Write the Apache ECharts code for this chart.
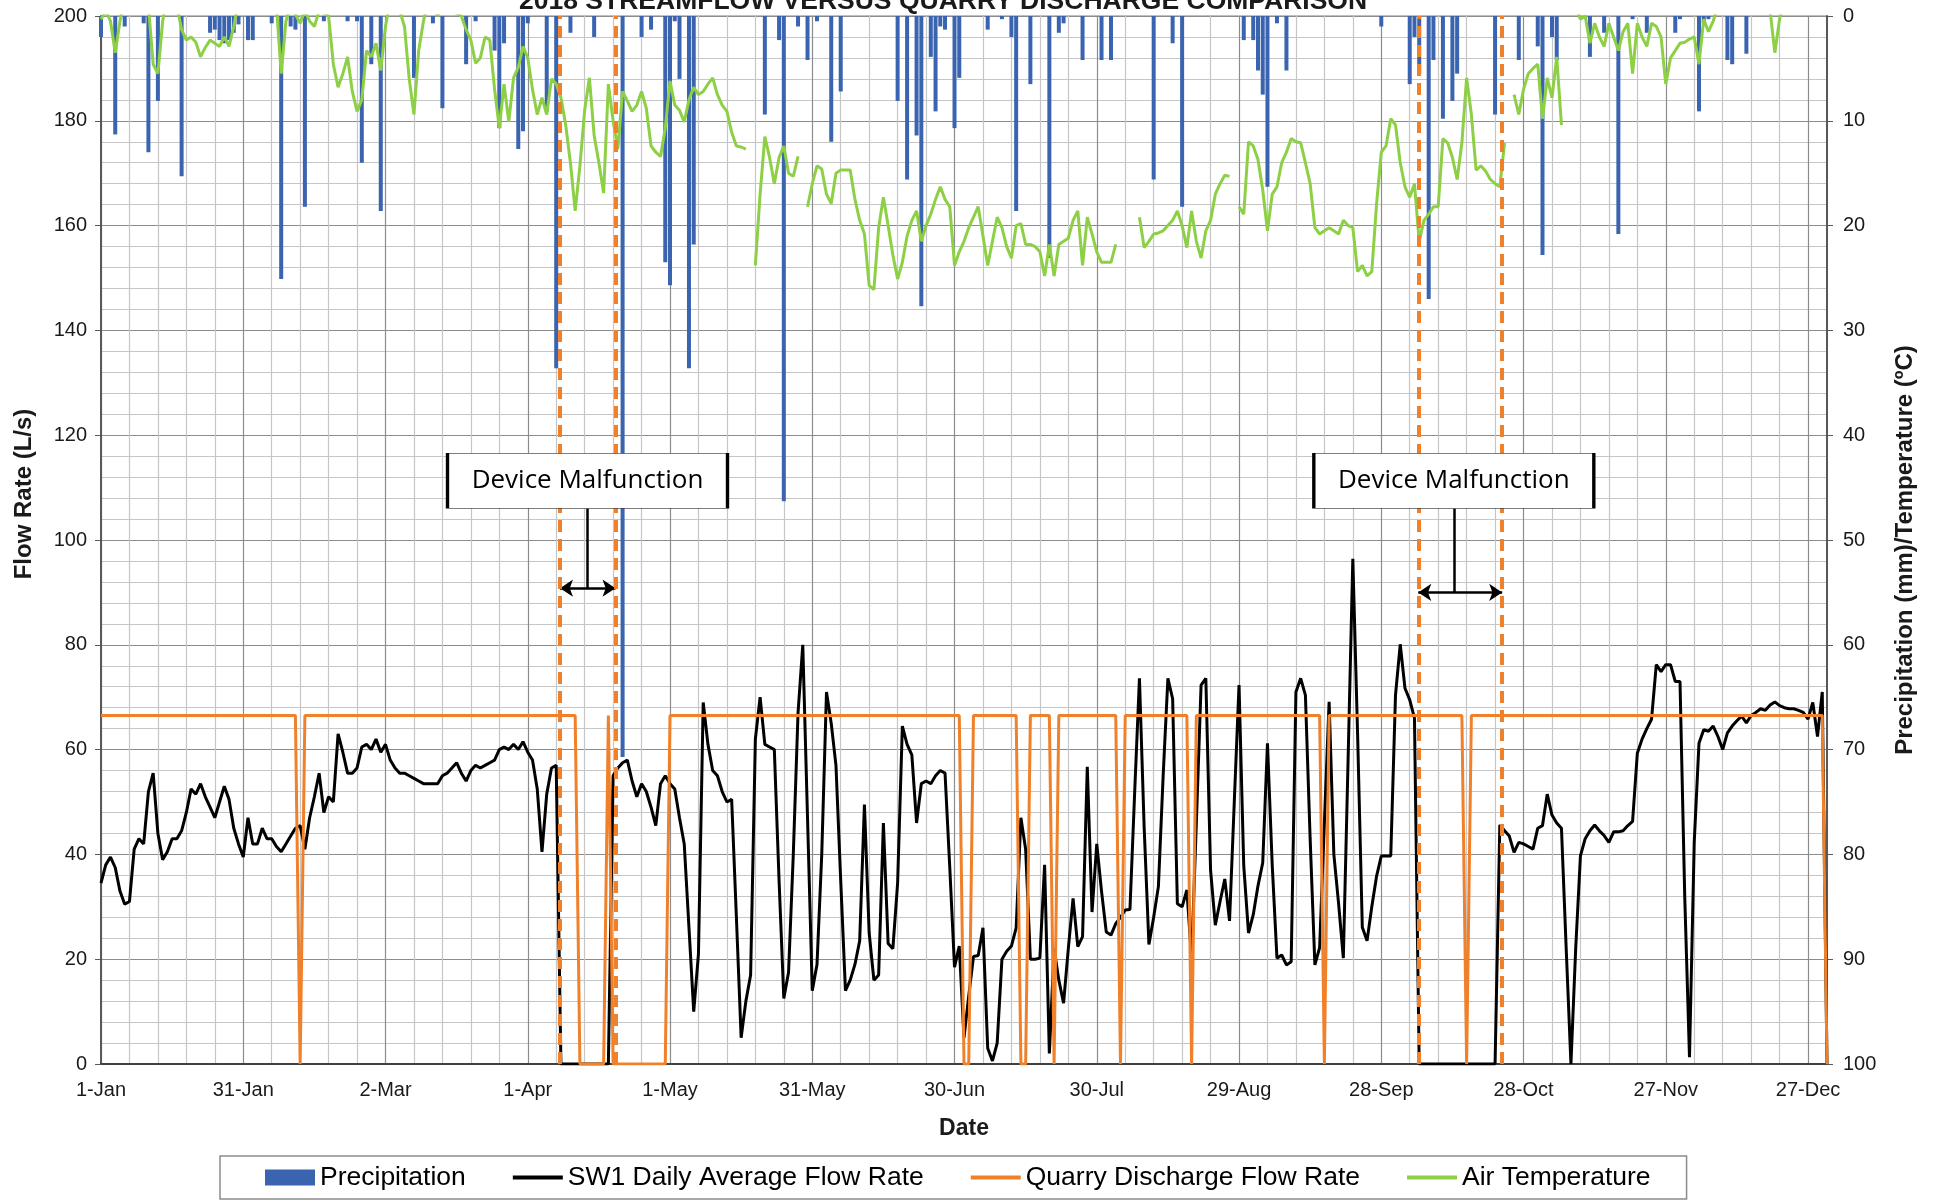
<!DOCTYPE html>
<html><head><meta charset="utf-8">
<script src="https://cdn.jsdelivr.net/npm/echarts/dist/echarts.min.js"></script>
<style>html,body{margin:0;padding:0;background:#fff}#c{width:1938px;height:1201px}</style>
</head><body><div id="c"></div>
<script>
// ---------------- data ----------------
const chartTitle = '2018 STREAMFLOW VERSUS QUARRY DISCHARGE COMPARISON';
const tickLabels = ['1-Jan','31-Jan','2-Mar','1-Apr','1-May','31-May','30-Jun','30-Jul','29-Aug','28-Sep','28-Oct','27-Nov','27-Dec'];
const seriesNames = ['Precipitation','SW1 Daily Average Flow Rate','Quarry Discharge Flow Rate','Air Temperature'];

// [day of year (0 = 1-Jan), mm]
const precipitation = [[0,2],[3,11.3],[5,1],[9,0.7],[10,13],[12,8.1],[17,15.3],[23,1.6],[24,1.3],[25,2.3],[26,2.6],[27,2.3],[28,1.6],[29,0.8],[31,2.3],[32,2.3],[36,0.7],[38,25.1],[40,1],[41,1.3],[43,18.2],[47,0.5],[52,0.5],[54,0.5],[55,14],[57,4.6],[59,18.6],[66,5.9],[70,0.7],[72,8.8],[77,4.6],[79,0.5],[83,3.3],[84,10.7],[85,2.6],[88,12.7],[89,11],[90,0.7],[94,9.1],[96,33.6],[99,1.6],[104,2],[110,70.7],[114,2],[116,1.3],[119,23.5],[120,25.7],[121,0.5],[122,6],[124,33.6],[125,21.8],[140,9.4],[143,2.3],[144,46.3],[147,1],[149,4.2],[151,0.5],[154,12],[156,7.2],[168,8.1],[170,15.6],[172,11.4],[173,27.7],[175,3.9],[176,9.1],[177,1],[178,1.3],[180,10.7],[181,5.9],[187,1.3],[190,0.3],[192,2],[193,18.6],[196,6.5],[200,23.1],[202,1.6],[203,0.7],[207,4.2],[211,4.2],[213,4.2],[222,15.6],[226,2.6],[228,18.2],[241,2.3],[243,2.3],[244,5.2],[245,7.5],[246,16.3],[248,0.7],[250,5.2],[270,1],[276,6.5],[277,2],[278,5.5],[280,27],[281,4.2],[283,9.8],[285,8.1],[286,5.5],[294,9.4],[299,4.2],[303,2.9],[304,22.8],[306,2],[307,4.2],[314,3.9],[317,1.6],[320,20.8],[323,0.3],[326,1.6],[332,1.6],[333,0.3],[337,9.1],[338,0.7],[339,0.3],[343,4.2],[344,4.6],[347,3.6]];

// [day, L/s]
const sw1Flow = [[0,34.5],[1,38],[2,39.5],[3,37.5],[4,33],[5,30.5],[6,31],[7,41],[8,43],[9,42],[10,52],[11,55.5],[12,44],[13,39],[14,40.5],[15,43],[16,43],[17,44.5],[18,48],[19,52.5],[20,51.5],[21,53.5],[22,51],[23,49],[24,47],[25,50],[26,53],[27,50.5],[28,45],[29,42],[30,39.5],[31,47],[32,42],[33,42],[34,45],[35,43],[36,43],[37,41.5],[38,40.5],[39,42],[40,43.5],[41,45],[42,45.5],[43,41],[44,47],[45,51],[46,55.5],[47,48],[48,51],[49,50],[50,63],[51,59.5],[52,55.5],[53,55.5],[54,56.5],[55,60.5],[56,61],[57,60],[58,62],[59,59.5],[60,61],[61,58],[62,56.5],[63,55.5],[64,55.5],[65,55],[66,54.5],[67,54],[68,53.5],[69,53.5],[70,53.5],[71,53.5],[72,55],[73,55.5],[74,56.5],[75,57.5],[76,55.5],[77,54],[78,56],[79,57],[80,56.5],[81,57],[82,57.5],[83,58],[84,60],[85,60.5],[86,60],[87,61],[88,60],[89,61.5],[90,59.5],[91,58],[92,52.5],[93,40.5],[94,51.5],[95,56.5],[96,57],[97,0],[107,0],[108,55],[109,56.5],[110,57.5],[111,58],[112,54],[113,51],[114,53.5],[115,52],[116,49],[117,45.5],[118,53.5],[119,55],[120,53.5],[121,52.5],[122,47],[123,42],[124,26],[125,10],[126,21],[127,69],[128,61],[129,56],[130,55],[131,52],[132,50],[133,50.5],[134,28],[135,5],[136,12],[137,17],[138,62],[139,70],[140,61],[141,60.5],[142,60],[143,35],[144,12.5],[145,17.5],[146,40],[147,67],[148,80],[149,47],[150,14],[151,19],[152,40],[153,71],[154,65],[155,57],[156,35],[157,14],[158,16],[159,19],[160,23.5],[161,49.5],[162,25],[163,16],[164,17],[165,46],[166,23],[167,22],[168,34.5],[169,64.5],[170,61],[171,59],[172,46],[173,53.5],[174,54],[175,53.5],[176,55],[177,56],[178,55.5],[179,37.5],[180,18.5],[181,22.5],[182,5],[183,13],[184,20.5],[185,20.7],[186,26],[187,3],[188,0.6],[189,4],[190,20],[191,21.5],[192,22.5],[193,26],[194,47],[195,41],[196,20],[197,20],[198,20.2],[199,38],[200,2],[201,22],[202,16],[203,11.6],[204,22],[205,31.6],[206,22.4],[207,24.3],[208,56.7],[209,29],[210,42],[211,33],[212,25.2],[213,24.6],[214,26.8],[215,28],[216,29.4],[217,29.5],[218,52],[219,73.6],[220,45],[221,22.8],[222,28],[223,33.9],[224,55],[225,73.6],[226,69.7],[227,30.6],[228,30],[229,33.2],[230,20.2],[231,46],[232,72.3],[233,73.6],[234,37],[235,26.5],[236,31],[237,35.3],[238,27.3],[239,50],[240,72.3],[241,37.8],[242,25],[243,28.5],[244,34],[245,38.4],[246,61.2],[247,38],[248,20.2],[249,20.8],[250,18.9],[251,19.5],[252,71],[253,73.6],[254,70.4],[255,43],[256,18.9],[257,22.2],[258,46],[259,69.1],[260,40],[261,30.6],[262,20.2],[263,58],[264,96.4],[265,63.2],[266,26.1],[267,23.5],[268,30],[269,35.8],[270,39.7],[271,39.7],[272,39.7],[273,70.4],[274,80.1],[275,71.7],[276,69.5],[277,66],[278,0],[294,0],[295,45.6],[296,44.5],[297,43.5],[298,40.4],[299,42.3],[300,42],[301,41.5],[302,41],[303,45],[304,45.5],[305,51.5],[306,47.5],[307,46],[308,45],[309,22],[310,0],[311,22],[312,39.7],[313,43],[314,44.5],[315,45.6],[316,44.5],[317,43.6],[318,42.3],[319,44.3],[320,44.3],[321,44.5],[322,45.5],[323,46.3],[324,59.3],[325,62],[326,64],[327,65.8],[328,76.2],[329,74.9],[330,76.2],[331,76.2],[332,73],[333,73],[334,31.9],[335,1.3],[336,42.3],[337,61.2],[338,63.8],[339,63.5],[340,64.5],[341,62.5],[342,60],[343,63.2],[344,64.5],[345,65.5],[346,66.4],[347,65.1],[348,66.5],[349,67.1],[350,67.8],[351,67.5],[352,68.5],[353,69.1],[354,68.4],[355,68],[356,67.8],[357,67.8],[358,67.5],[359,67.1],[360,65.8],[361,69],[362,62.5],[363,71],[364,0]];

// [day, L/s]
const quarryDischarge = [[0,66.5],[41,66.5],[42,0],[43,66.5],[100,66.5],[101,0],[106,0],[107,66.5],[108,0],[119,0],[120,66.5],[181,66.5],[182,0],[183,0],[184,66.5],[193,66.5],[194,0],[195,0],[196,66.5],[200,66.5],[201,0],[202,66.5],[214,66.5],[215,0],[216,66.5],[229,66.5],[230,0],[231,66.5],[257,66.5],[258,0],[259,66.5],[287,66.5],[288,0],[289,66.5],[363,66.5],[364,0]];

// [day, degC]  (null = no record; below-zero values fall outside the axis)
const airTemperature = [[0,0.3],[1,-0.5],[2,0.5],[3,3.5],[4,0.5],[5,-2],[10,-1],[11,4.6],[12,5.5],[13,0.5],[14,-2],[16,-1],[17,1.3],[18,2.3],[19,2],[20,2.5],[21,3.9],[22,3],[23,2.3],[24,2.6],[25,2.9],[26,2],[27,2.9],[28,1],[29,-1.5],[37,-1],[38,5.5],[39,0.5],[40,-1],[42,0.7],[43,-0.5],[44,0.5],[45,1],[46,-0.5],[48,0],[49,4.6],[50,6.8],[51,5.5],[52,3.9],[53,7.2],[54,9.1],[55,8],[56,3.3],[57,3.9],[58,2.6],[59,5.2],[60,1],[61,-1.5],[63,-0.5],[64,1],[65,6],[66,9.4],[67,3.3],[68,0.5],[69,-1.5],[71,0],[72,-1],[76,0],[77,1.3],[78,2.3],[79,4.5],[80,4],[81,2],[82,2.3],[83,7],[84,10.7],[85,6.5],[86,10.1],[87,5.9],[88,4.9],[89,2.9],[90,4],[91,7],[92,9.4],[93,7.8],[94,9.4],[95,6],[96,6.5],[97,7.8],[98,10.4],[99,14],[100,18.6],[101,14.3],[102,9],[103,5.9],[104,11.4],[105,14],[106,16.9],[107,6.5],[108,10],[109,12.7],[110,7.2],[111,8.1],[112,9.1],[113,8.5],[114,7.2],[115,8.8],[116,12.4],[117,13],[118,13.4],[119,10.7],[120,6.2],[121,8.5],[122,9],[123,10.1],[124,8],[125,6.8],[126,7.5],[127,7.2],[128,6.5],[129,5.9],[130,7.5],[131,8.5],[132,9.1],[133,11.1],[134,12.4],[135,12.5],[136,12.7],[137,null],[138,23.8],[139,17],[140,11.5],[141,13.5],[142,16],[143,13.5],[144,12.4],[145,15],[146,15.3],[147,13.4],[148,null],[149,18.2],[150,16],[151,14.3],[152,14.6],[153,17],[154,17.9],[155,15],[156,14.7],[157,14.7],[158,14.7],[159,17.5],[160,19.5],[161,20.8],[162,25.7],[163,26.1],[164,20.2],[165,17.3],[166,20],[167,22.8],[168,25.1],[169,23.5],[170,21],[171,19.5],[172,18.6],[173,21.5],[174,20],[175,18.9],[176,17.5],[177,16.3],[178,17.5],[179,18.2],[180,23.8],[181,22.5],[182,21.5],[183,20.2],[184,19.2],[185,18.2],[186,21],[187,23.8],[188,21.5],[189,19.2],[190,20.2],[191,22],[192,23.1],[193,20],[194,19.8],[195,21.8],[196,21.8],[197,22],[198,22.5],[199,24.8],[200,21.8],[201,24.8],[202,21.8],[203,21.5],[204,21.2],[205,19.5],[206,18.6],[207,23.8],[208,19.2],[209,20.8],[210,22.5],[211,23.5],[212,23.5],[213,23.5],[214,21.8],[215,null],[219,19.2],[220,22.1],[221,21.5],[222,20.8],[223,20.7],[224,20.5],[225,20],[226,19.5],[227,18.6],[228,20],[229,22.1],[230,18.6],[231,21.5],[232,23.1],[233,20.5],[234,19.5],[235,17],[236,16],[237,15.2],[238,15.3],[239,null],[240,18.2],[241,18.9],[242,12],[243,12.4],[244,13.7],[245,16.6],[246,20.5],[247,17],[248,16.3],[249,14],[250,13],[251,11.7],[252,12],[253,12.1],[254,14],[255,16],[256,20.2],[257,20.8],[258,20.5],[259,20.2],[260,20.5],[261,20.8],[262,19.5],[263,20],[264,20.2],[265,24.4],[266,23.8],[267,24.8],[268,24.4],[269,18],[270,13],[271,12.4],[272,9.8],[273,10.4],[274,14],[275,16.3],[276,17.3],[277,16],[278,21.5],[279,19.5],[280,18.9],[281,18.2],[282,18.2],[283,11.7],[284,12.1],[285,13.5],[286,15.6],[287,12.1],[288,5.9],[289,9.4],[290,14.7],[291,14.3],[292,14.8],[293,15.6],[294,16],[295,16.3],[296,12.1],[297,null],[298,7.5],[299,9.4],[300,7],[301,5.5],[302,5],[303,4.6],[304,9.8],[305,5.9],[306,7.8],[307,3.9],[308,10.4],[309,null],[311,-1],[312,0.3],[313,0],[314,2.6],[315,0.7],[316,2],[317,2.9],[318,0.7],[319,2],[320,3.3],[321,1.5],[322,0.7],[323,5.5],[324,0.7],[325,2],[326,2.9],[327,0.7],[328,1],[329,2],[330,6.5],[331,4],[332,3.3],[333,2.6],[334,2.5],[335,2.2],[336,2],[337,4.6],[338,0.3],[339,1.5],[340,0.5],[341,-1],[352,-0.5],[353,3.5],[354,0.3],[355,-1.5],[364,-1]];

// device malfunction windows [start day, end day] and the day each call-out box is centred on
const malfunctionWindows = [[96.8, 108.5], [277.8, 295.5]];
const calloutDays = [102.6, 285.3];
const annotationText = 'Device Malfunction';

// ---------------- layout / style ----------------
const BOX_LEVEL = 111.3, BOX_BOTTOM = 106, ARROW_LEVELS = [90.8, 90.0];
const FONT = '"Liberation Sans", Arial, sans-serif';
const C_BLUE = '#3a63b0', C_ORANGE = '#f0802a', C_GREEN = '#8dcf45';
const LINE_ICON = 'path://M0,0L0.01,0Z M0,6L50,6L50,10L0,10Z M0,16L0.01,16Z';

const markBoxes = calloutDays.map(d => ({coord: [d, BOX_LEVEL], value: annotationText}));
const blackMarks = [];
malfunctionWindows.forEach((w, i) => {
  const mid = calloutDays[i], lv = ARROW_LEVELS[i];
  blackMarks.push([{coord: [mid, BOX_BOTTOM], symbol: 'none'}, {coord: [mid, lv], symbol: 'none'}]);
  blackMarks.push([{coord: [w[0], lv], symbol: 'arrow'}, {coord: [w[1], lv], symbol: 'arrow'}]);
});
const dashedMarks = [];
malfunctionWindows.forEach(w => { dashedMarks.push({xAxis: w[0]}); dashedMarks.push({xAxis: w[1]}); });

const chart = echarts.init(document.getElementById('c'), null, {renderer: 'canvas'});
const MAJOR = '#8c8c8c', MINOR = '#c6c6c6';

chart.setOption({
  animation: false,
  backgroundColor: '#fff',
  title: {
    text: chartTitle, left: 519, top: -12, padding: 0,
    textStyle: {fontFamily: FONT, fontSize: 26.5, fontWeight: 'bold', color: '#1a1a1a'}
  },
  legend: {
    left: 220, top: 1156, padding: [8, 36, 8, 45], itemGap: 47,
    itemWidth: 50, itemHeight: 16,
    borderColor: '#8c8c8c', borderWidth: 1.5,
    textStyle: {fontFamily: FONT, fontSize: 26.5, color: '#000'},
    data: [
      {name: seriesNames[0], icon: 'rect'},
      {name: seriesNames[1], icon: LINE_ICON},
      {name: seriesNames[2], icon: LINE_ICON},
      {name: seriesNames[3], icon: LINE_ICON}
    ]
  },
  grid: {left: 101, right: 111, top: 16, bottom: 137, show: true, borderColor: '#808080', borderWidth: 1,
         containLabel: false, outerBoundsMode: 'none'},
  xAxis: {
    type: 'value', min: 0, max: 364, interval: 6,
    name: 'Date', nameLocation: 'middle', nameGap: 53,
    nameTextStyle: {fontFamily: FONT, fontSize: 23, fontWeight: 'bold', color: '#1a1a1a'},
    axisLine: {show: true, onZero: false, lineStyle: {color: '#404040', width: 2}},
    axisTick: {show: false},
    axisLabel: {
      fontFamily: FONT, fontSize: 20, color: '#1a1a1a', margin: 16,
      showMinLabel: true, showMaxLabel: true,
      formatter: v => (Math.abs(v % 30) < 1e-6 ? tickLabels[Math.round(v / 30)] : '')
    },
    splitLine: {show: true, lineStyle: {color: [MAJOR, MINOR, MINOR, MINOR, MINOR], width: 1.2}}
  },
  yAxis: [
    {
      type: 'value', min: 0, max: 200, interval: 20, position: 'left',
      name: 'Flow Rate (L/s)', nameLocation: 'middle', nameGap: 65, nameRotate: 90,
      nameTextStyle: {fontFamily: FONT, fontSize: 24, fontWeight: 'bold', color: '#1a1a1a', padding: [0, 0, 0, 92]},
      axisLine: {show: true, lineStyle: {color: '#595959', width: 2}},
      axisTick: {show: true, length: 6, lineStyle: {color: '#595959'}},
      axisLabel: {fontFamily: FONT, fontSize: 20, color: '#1a1a1a', margin: 14},
      splitLine: {show: true, lineStyle: {color: MAJOR, width: 1.2}},
      minorTick: {show: false, splitNumber: 5},
      minorSplitLine: {show: true, lineStyle: {color: MINOR, width: 1.2}}
    },
    {
      type: 'value', min: 0, max: 100, interval: 10, position: 'right', inverse: true,
      name: 'Precipitation (mm)/Temperature (ºC)', nameLocation: 'middle', nameGap: 66, nameRotate: 90,
      nameTextStyle: {fontFamily: FONT, fontSize: 24, fontWeight: 'bold', color: '#1a1a1a', padding: [0, 20, 0, 0]},
      axisLine: {show: true, lineStyle: {color: '#595959', width: 2}},
      axisTick: {show: true, length: 6, lineStyle: {color: '#595959'}},
      axisLabel: {fontFamily: FONT, fontSize: 20, color: '#1a1a1a', margin: 16},
      splitLine: {show: false}
    }
  ],
  series: [
    {
      name: seriesNames[0], type: 'bar', yAxisIndex: 1, barWidth: 4,
      itemStyle: {color: C_BLUE}, data: precipitation, silent: true
    },
    {
      name: seriesNames[1], type: 'line', yAxisIndex: 0, symbol: 'none', showSymbol: false,
      lineStyle: {color: '#000', width: 3}, itemStyle: {color: '#000'}, data: sw1Flow, silent: true,
      markLine: {
        silent: true, symbolSize: 13, label: {show: false},
        lineStyle: {color: '#000', width: 2.5, type: 'solid'},
        data: blackMarks
      },
      markPoint: {
        silent: true, symbol: 'rect', symbolSize: [280, 55],
        itemStyle: {color: '#fff', borderColor: '#000', borderWidth: 1.5},
        label: {show: true, position: 'inside', formatter: annotationText,
                fontFamily: '"Open Sans", sans-serif', fontSize: 26, color: '#000'},
        data: markBoxes
      }
    },
    {
      name: seriesNames[2], type: 'line', yAxisIndex: 0, symbol: 'none', showSymbol: false,
      lineStyle: {color: C_ORANGE, width: 3}, itemStyle: {color: C_ORANGE}, data: quarryDischarge, silent: true,
      markLine: {
        silent: true, symbol: 'none', label: {show: false},
        lineStyle: {color: C_ORANGE, width: 4, type: [12, 7]},
        data: dashedMarks
      }
    },
    {
      name: seriesNames[3], type: 'line', yAxisIndex: 1, symbol: 'none', showSymbol: false, connectNulls: false,
      lineStyle: {color: C_GREEN, width: 3}, itemStyle: {color: C_GREEN}, data: airTemperature, silent: true, clip: true
    }
  ]
});
</script>
</body></html>
